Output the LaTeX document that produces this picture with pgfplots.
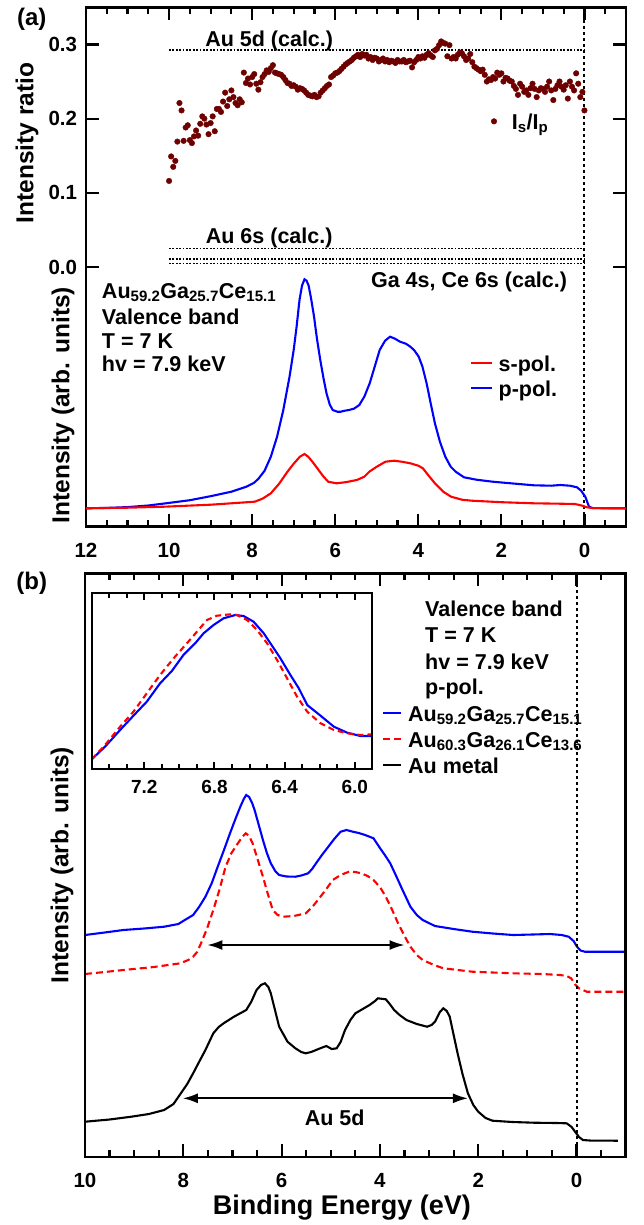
\documentclass[border=0pt]{standalone}
\usepackage{graphicx}
\usepackage{pgfplots}
\pgfplotsset{compat=1.18}
\usepackage{fontspec}
\setmainfont{Liberation Sans}
\usetikzlibrary{arrows.meta}
\definecolor{ratiored}{RGB}{110,0,0}
\definecolor{pblue}{RGB}{0,0,255}
\definecolor{sred}{RGB}{255,0,0}
\tikzset{tk/.style={line width=2.2pt, black}}
\pgfplotsset{
  myframe/.style={
    scale only axis, clip=false,
    x dir=reverse,
    tick align=inside,
    axis line style={line width=2.7pt, black},
    tick style={line width=2.2pt, black},
    major tick length=12.7pt,
    minor tick length=6.7pt,
    tick label style={font=\fontsize{20.5}{24}\selectfont\bfseries},
    xticklabel style={inner sep=0pt, anchor=north, yshift=-16pt},
    yticklabel style={inner sep=0pt, anchor=east, xshift=-8.7pt},
    label style={font=\fontsize{24.5}{29}\selectfont\bfseries},
  },
  mylegend/.style={
    legend cell align=left,
    legend style={draw=none, fill=none, inner sep=0pt, outer sep=0pt,
      font=\fontsize{21.5}{26}\selectfont\bfseries,
      nodes={inner sep=0pt, text height=15.4pt, text depth=0pt}},
  },
  curve/.style={line width=2.1pt},
  dotline/.style={black, line width=1.6pt, dash pattern=on 1.7pt off 1.7pt},
  vdot/.style={black, line width=2pt, dash pattern=on 3pt off 3pt},
}
\begin{document}
\scalebox{0.5}{%
\begin{tikzpicture}
\path (0pt,0pt) rectangle (643pt,-1225pt);
\node[font=\fontsize{24}{28}\selectfont\bfseries] at (31.7pt,-19pt) {(a)};
\node[font=\fontsize{24}{28}\selectfont\bfseries] at (31.7pt,-583.3pt) {(b)};
% ---------------- panel (a): intensity ratio
\begin{axis}[myframe, mylegend,
  at={(86pt,-526.7pt)}, anchor=south west, width=540pt, height=519.4pt,
  xmin=-1, xmax=12, ymin=-0.35, ymax=0.35,
  xtick={0,2,4,6,8,10,12}, xticklabels={0,2,4,6,8,10,12}, minor x tick num=3,
  ytick={0,0.1,0.2,0.3}, yticklabels={0.0,0.1,0.2,0.3},
  xtick pos=both, ytick pos=both,
  ylabel={Intensity ratio},
  ylabel style={at={(axis description cs:-0.109,0.739)}, anchor=center},
  legend style={at={(axis cs:2.245,0.2067)}, anchor=north west, column sep=15pt},
  legend image code/.code={\draw[#1] plot coordinates {(0pt,0pt)};},
]
\addplot[only marks, mark=*, mark size=2.8pt, color=ratiored, mark options={fill=ratiored, draw=ratiored}] coordinates {
(10.00,0.116) (9.95,0.149) (9.90,0.135) (9.85,0.143) (9.80,0.169) (9.75,0.221) (9.70,0.211) (9.65,0.170) (9.60,0.188) (9.55,0.191)
(9.50,0.171) (9.45,0.167) (9.40,0.176) (9.35,0.184) (9.30,0.177) (9.25,0.193) (9.20,0.203) (9.15,0.200) (9.10,0.192) (9.05,0.179)
(9.00,0.194) (8.95,0.203) (8.90,0.183) (8.85,0.213) (8.80,0.213) (8.75,0.209) (8.70,0.223) (8.65,0.235) (8.60,0.217) (8.55,0.226)
(8.50,0.238) (8.45,0.229) (8.40,0.221) (8.35,0.218) (8.30,0.226) (8.25,0.222) (8.20,0.262) (8.15,0.248) (8.10,0.254) (8.05,0.246)
(8.00,0.256) (7.95,0.260) (7.90,0.247) (7.85,0.239) (7.80,0.249) (7.75,0.256) (7.70,0.260) (7.65,0.265) (7.60,0.263) (7.55,0.268)
(7.50,0.272) (7.45,0.262) (7.40,0.261) (7.35,0.260) (7.30,0.259) (7.25,0.256) (7.20,0.252) (7.15,0.248) (7.10,0.247) (7.05,0.244)
(7.00,0.245) (6.95,0.243) (6.90,0.239) (6.85,0.241) (6.80,0.240) (6.75,0.238) (6.70,0.235) (6.65,0.232) (6.60,0.231) (6.55,0.230)
(6.50,0.232) (6.45,0.229) (6.40,0.230) (6.35,0.235) (6.30,0.238) (6.25,0.241) (6.20,0.244) (6.15,0.246) (6.10,0.256) (6.05,0.258)
(6.00,0.261) (5.95,0.262) (5.90,0.264) (5.85,0.267) (5.80,0.270) (5.75,0.273) (5.70,0.275) (5.65,0.277) (5.60,0.279) (5.55,0.282)
(5.50,0.284) (5.45,0.286) (5.40,0.283) (5.35,0.287) (5.30,0.285) (5.25,0.286) (5.20,0.281) (5.15,0.283) (5.10,0.279) (5.05,0.282)
(5.00,0.281) (4.95,0.277) (4.90,0.279) (4.85,0.281) (4.80,0.277) (4.75,0.279) (4.70,0.276) (4.65,0.278) (4.60,0.277) (4.55,0.275)
(4.50,0.279) (4.45,0.277) (4.40,0.277) (4.35,0.279) (4.30,0.276) (4.25,0.277) (4.20,0.278) (4.15,0.269) (4.10,0.276) (4.05,0.279)
(4.00,0.283) (3.95,0.281) (3.90,0.284) (3.85,0.282) (3.80,0.286) (3.75,0.288) (3.70,0.285) (3.65,0.283) (3.60,0.292) (3.55,0.294)
(3.50,0.299) (3.45,0.304) (3.40,0.302) (3.35,0.301) (3.30,0.284) (3.25,0.299) (3.20,0.281) (3.15,0.283) (3.10,0.281) (3.05,0.286)
(3.00,0.289) (2.95,0.288) (2.90,0.284) (2.85,0.279) (2.80,0.281) (2.75,0.287) (2.70,0.276) (2.65,0.270) (2.60,0.268) (2.55,0.266)
(2.50,0.264) (2.45,0.266) (2.40,0.259) (2.35,0.250) (2.30,0.253) (2.25,0.252) (2.20,0.256) (2.15,0.254) (2.10,0.262) (2.05,0.259)
(2.00,0.261) (1.95,0.250) (1.90,0.255) (1.85,0.254) (1.80,0.251) (1.75,0.250) (1.70,0.244) (1.65,0.240) (1.60,0.232) (1.55,0.247)
(1.50,0.243) (1.45,0.236) (1.40,0.238) (1.35,0.232) (1.30,0.241) (1.25,0.247) (1.20,0.240) (1.15,0.229) (1.10,0.238) (1.05,0.241)
(1.00,0.240) (0.95,0.236) (0.90,0.243) (0.85,0.250) (0.80,0.238) (0.75,0.225) (0.70,0.240) (0.65,0.245) (0.60,0.250) (0.55,0.243)
(0.50,0.239) (0.45,0.245) (0.40,0.227) (0.35,0.250) (0.30,0.243) (0.25,0.238) (0.20,0.261) (0.15,0.247) (0.10,0.229) (0.05,0.236)
(0.00,0.211)};
\addlegendentry{I\textsubscript{s}/I\textsubscript{p}}
\addplot[dotline, forget plot] coordinates {(10,0.2925) (0,0.2925)};
\addplot[dotline, forget plot] coordinates {(10,0.0248) (0,0.0248)};
\addplot[dotline, forget plot] coordinates {(10,0.0104) (0,0.0104)};
\addplot[dotline, forget plot] coordinates {(10,0.0046) (0,0.0046)};
\addplot[vdot, forget plot] coordinates {(0,-0.35) (0,0.35)};
\node[anchor=base, font=\fontsize{21.5}{26}\selectfont\bfseries] at (axis cs:7.59,0.2974) {Au 5d (calc.)};
\node[anchor=base, font=\fontsize{21.5}{26}\selectfont\bfseries] at (axis cs:7.59,0.0323) {Au 6s (calc.)};
\draw[line width=2.7pt, black] (rel axis cs:0,0) rectangle (rel axis cs:1,1);
\pgfplotsinvokeforeach{0,2,4,6,8,10,12}{
  \draw[tk] (axis cs:#1,-0.35) -- ++(0pt,12.7pt);
  \draw[tk] (axis cs:#1,0.35) -- ++(0pt,-12.7pt);}
\pgfplotsinvokeforeach{-0.5,0.5,1,1.5,2.5,3,3.5,4.5,5,5.5,6.5,7,7.5,8.5,9,9.5,10.5,11,11.5}{
  \draw[tk] (axis cs:#1,-0.35) -- ++(0pt,6.7pt);
  \draw[tk] (axis cs:#1,0.35) -- ++(0pt,-6.7pt);}
\pgfplotsinvokeforeach{0,0.1,0.2,0.3}{
  \draw[tk] (axis cs:12,#1) -- ++(12.7pt,0pt);
  \draw[tk] (axis cs:-1,#1) -- ++(-12.7pt,0pt);}
\end{axis}
% ---------------- panel (a): intensity
\begin{axis}[myframe, mylegend,
  at={(86pt,-526.7pt)}, anchor=south west, width=540pt, height=519.4pt,
  xmin=-1, xmax=12, ymin=0, ymax=519.4,
  xtick=\empty, ytick=\empty, axis line style={draw=none},
  ylabel={Intensity (arb. units)},
  ylabel style={at={(axis description cs:-0.0426,0.234)}, anchor=center},
  reverse legend,
  legend style={at={(axis cs:2.756,171.1)}, anchor=north west, column sep=6pt, row sep=9.6pt},
  legend image code/.code={\draw[#1] (0pt,0pt) -- (20.6pt,0pt);},
]
\addplot[curve, pblue] coordinates {
(12.0,18.4) (11.5,18.8) (11.0,19.6) (10.5,21.2) (10.0,23.8) (9.5,26.5) (9.0,30.5) (8.5,35) (8.14,40) (7.95,44) (7.84,48.4)
(7.7,56) (7.55,70) (7.4,90) (7.25,116.7) (7.1,150) (7.0,176.7) (6.93,200) (6.86,226.7) (6.8,241) (6.74,247.4) (6.69,246)
(6.64,241) (6.58,228) (6.51,210) (6.44,188) (6.36,166.7) (6.28,148) (6.21,133.4) (6.13,122) (6.06,116.7) (5.95,115) (5.87,115)
(5.77,116) (5.67,116.7) (5.55,118) (5.42,121.7) (5.3,130) (5.17,143.4) (5.05,160) (4.93,176.7) (4.8,186) (4.68,190) (4.56,188)
(4.44,185) (4.3,183) (4.19,180) (4.09,176) (3.99,170) (3.9,160) (3.8,143.4) (3.7,123) (3.6,103.4) (3.48,85) (3.35,70) (3.22,60)
(3.1,55) (2.9,49.4) (2.6,47) (2.21,45) (1.8,43.5) (1.22,41.4) (0.8,41) (0.58,41.7) (0.35,41) (0.18,39.4) (0.08,36) (-0.02,30)
(-0.11,20) (-0.2,18.6) (-0.6,18.4) (-1.0,18.4)};
\addlegendentry{p-pol.}
\addplot[curve, sred] coordinates {
(12.0,18.4) (11.0,19.0) (10.12,20) (9.0,22) (8.5,23.4) (7.94,25) (7.75,28) (7.55,33.4) (7.35,43) (7.15,55) (7.0,63) (6.85,70)
(6.74,72.7) (6.65,70) (6.55,65) (6.46,60) (6.3,51) (6.17,45) (5.97,43.4) (5.75,44.5) (5.48,46.7) (5.3,50) (5.18,55) (5.0,60)
(4.79,65) (4.58,66) (4.4,65) (4.19,63.4) (4.0,61) (3.89,58.4) (3.75,51) (3.6,43.4) (3.4,35) (3.21,30) (2.95,27) (2.71,26)
(2.0,24.5) (1.22,23.4) (0.6,23) (0.23,22.7) (0.05,21) (-0.06,19.4) (-0.2,18.6) (-1.0,18.4)};
\addlegendentry{s-pol.}
\node[anchor=base west, font=\fontsize{21.5}{26}\selectfont\bfseries] at (axis cs:11.70,228.7) {Au\textsubscript{59.2}Ga\textsubscript{25.7}Ce\textsubscript{15.1}};
\node[anchor=base west, font=\fontsize{21.5}{26}\selectfont\bfseries] at (axis cs:11.70,202.7) {Valence band};
\node[anchor=base west, font=\fontsize{21.5}{26}\selectfont\bfseries] at (axis cs:11.70,178.7) {T = 7 K};
\node[anchor=base west, font=\fontsize{21.5}{26}\selectfont\bfseries] at (axis cs:11.70,155.7) {hv = 7.9 keV};
\node[anchor=base east, font=\fontsize{21.5}{26}\selectfont\bfseries] at (axis cs:0.334,239) {Ga 4s, Ce 6s (calc.)};
\end{axis}
% ---------------- panel (b)
\begin{axis}[myframe, mylegend,
  at={(85pt,-1157pt)}, anchor=south west, width=540.7pt, height=583.7pt,
  xmin=-1, xmax=10, ymin=0, ymax=583.7,
  xtick={0,2,4,6,8,10}, xticklabels={0,2,4,6,8,10}, minor x tick num=3, ytick=\empty, xtick pos=both,
  xlabel={Binding Energy (eV)},
  xlabel style={at={(axis description cs:0.475,-0.0874)}, anchor=center, font=\fontsize{27}{32}\selectfont\bfseries},
  ylabel={Intensity (arb. units)},
  ylabel style={at={(axis description cs:-0.0425,0.5)}, anchor=center},
  legend style={at={(axis cs:3.963,451.4)}, anchor=north west, column sep=6pt, row sep=10.6pt},
  legend image code/.code={\draw[#1] (0pt,0pt) -- (18.3pt,0pt);},
]
\addplot[curve, pblue] coordinates {
(10,222) (9.6,224.5) (9.22,227) (8.8,228.5) (8.39,230.3) (8.1,233) (7.97,237) (7.8,242) (7.68,250) (7.55,260.3) (7.42,274)
(7.30,290.3) (7.18,306) (7.05,323.7) (6.94,338) (6.84,350.3) (6.77,358) (6.72,362) (6.66,360) (6.6,354) (6.55,347) (6.47,333)
(6.38,317) (6.3,304) (6.22,293.7) (6.13,286) (6.05,282) (5.9,280.5) (5.72,280.3) (5.6,281.5) (5.46,283.7) (5.38,288) (5.30,293.7)
(5.18,302) (5.05,310.3) (4.93,318) (4.80,325.3) (4.68,327) (4.55,325.3) (4.43,324) (4.30,322) (4.13,318.7) (4.0,309) (3.9,302)
(3.79,293.7) (3.66,280) (3.54,267) (3.38,250.3) (3.25,242) (3.13,237) (2.88,231) (2.5,228) (2.12,225.3) (1.7,223.5) (1.29,222)
(0.9,222.5) (0.54,223) (0.3,222) (0.16,220.3) (0.06,216) (-0.01,210.3) (-0.08,206.5) (-0.17,205.3) (-1,205.3)};
\addlegendentry{Au\textsubscript{59.2}Ga\textsubscript{25.7}Ce\textsubscript{15.1}}
\addplot[curve, sred, dash pattern=on 7pt off 4pt] coordinates {
(10,183) (9.6,185) (9.22,187) (8.6,190) (8.06,193.7) (7.9,197) (7.80,200.3) (7.72,205) (7.64,213.7) (7.52,228) (7.39,247)
(7.26,268) (7.14,290.3) (7.02,304) (6.89,313.7) (6.8,320) (6.73,323.7) (6.66,321) (6.59,313.7) (6.49,298) (6.38,280.3) (6.28,263)
(6.18,247) (6.08,242) (5.97,240.3) (5.75,241) (5.51,243.7) (5.36,251) (5.21,260.3) (5.09,268) (4.96,277) (4.8,282) (4.63,285.3)
(4.5,285) (4.38,283.7) (4.25,281) (4.13,277) (4.0,270) (3.88,260.3) (3.75,247) (3.63,233.7) (3.5,221) (3.38,210.3) (3.25,202)
(3.13,197) (2.9,192) (2.71,188.7) (2.12,185.3) (1.29,183.7) (0.7,183) (0.33,182) (0.2,181) (0.11,178.7) (0.02,172) (-0.05,168.7)
(-0.21,165.3) (-1,165.3)};
\addlegendentry{Au\textsubscript{60.3}Ga\textsubscript{26.1}Ce\textsubscript{13.6}}
\addplot[curve, black] coordinates {
(10,35.3) (9.5,37.5) (9.06,40.3) (8.7,43) (8.39,47) (8.2,53) (8.05,63.7) (7.92,73) (7.80,83.7) (7.68,95) (7.55,107) (7.39,123.7)
(7.28,130) (7.18,133.7) (6.97,140.3) (6.72,147) (6.62,155) (6.51,167) (6.42,172) (6.34,173.7) (6.27,170) (6.22,163.7) (6.14,148)
(6.05,130.3) (5.88,115.3) (5.72,108.7) (5.6,105) (5.51,103.7) (5.4,105) (5.30,107) (5.2,109) (5.09,111) (4.98,108) (4.88,108.7)
(4.8,115) (4.71,127) (4.60,137) (4.50,143.7) (4.35,148) (4.21,152) (4.1,156) (4.04,158.7) (3.88,157.7) (3.80,153) (3.71,147)
(3.6,142) (3.46,137) (3.25,133) (3.04,130.3) (2.95,132) (2.88,135.3) (2.78,145) (2.71,148.7) (2.64,146) (2.58,140.3) (2.5,122)
(2.42,103.7) (2.32,83) (2.21,63.7) (2.1,52) (2.00,45.3) (1.85,39) (1.71,36.3) (1.3,35) (0.87,34.3) (0.4,34) (0.2,33.7) (0.1,30)
(0.03,25.3) (-0.05,20) (-0.13,17) (-0.3,16.4) (-0.84,16.3)};
\addlegendentry{Au metal}
\addplot[vdot, forget plot] coordinates {(0,0) (0,583.7)};
\draw[{Latex[length=15pt,width=10pt]}-{Latex[length=15pt,width=10pt]}, line width=1.8pt] (axis cs:7.51,212) -- (axis cs:3.50,212);
\draw[{Latex[length=15pt,width=10pt]}-{Latex[length=15pt,width=10pt]}, line width=1.8pt] (axis cs:8.01,58.7) -- (axis cs:2.21,58.7);
\node[font=\fontsize{21.5}{26}\selectfont\bfseries] at (axis cs:4.92,38.7) {Au 5d};
\node[anchor=base west, font=\fontsize{21.5}{26}\selectfont\bfseries] at (axis cs:3.15,541) {Valence band};
\node[anchor=base west, font=\fontsize{21.5}{26}\selectfont\bfseries] at (axis cs:3.15,514.3) {T = 7 K};
\node[anchor=base west, font=\fontsize{21.5}{26}\selectfont\bfseries] at (axis cs:3.15,487.6) {hv = 7.9 keV};
\node[anchor=base west, font=\fontsize{21.5}{26}\selectfont\bfseries] at (axis cs:3.15,462.6) {p-pol.};
\draw[line width=2.7pt, black] (rel axis cs:0,0) rectangle (rel axis cs:1,1);
\pgfplotsinvokeforeach{0,2,4,6,8,10}{
  \draw[tk] (axis cs:#1,0) -- ++(0pt,12.7pt);
  \draw[tk] (axis cs:#1,583.7) -- ++(0pt,-12.7pt);}
\pgfplotsinvokeforeach{-0.5,0.5,1,1.5,2.5,3,3.5,4.5,5,5.5,6.5,7,7.5,8.5,9,9.5}{
  \draw[tk] (axis cs:#1,0) -- ++(0pt,6.7pt);
  \draw[tk] (axis cs:#1,583.7) -- ++(0pt,-6.7pt);}
\end{axis}
% ---------------- inset
\begin{axis}[
  scale only axis, clip=false, x dir=reverse, tick align=inside,
  at={(91.7pt,-769pt)}, anchor=south west, width=280.6pt, height=175.7pt,
  axis background/.style={fill=white},
  axis line style={line width=2.3pt, black},
  tick style={line width=2pt, black},
  major tick length=7pt, minor tick length=5pt,
  xmin=5.9, xmax=7.5, ymin=0, ymax=175.7,
  xtick={6.0,6.4,6.8,7.2}, xticklabels={6.0,6.4,6.8,7.2}, minor x tick num=3,
  ytick=\empty, xtick pos=both,
  tick label style={font=\fontsize{19}{23}\selectfont\bfseries},
  xticklabel style={inner sep=0pt, anchor=north, yshift=-11.5pt},
]
\addplot[curve, pblue] coordinates {
(7.5,9.7) (7.424,22.3) (7.338,39) (7.262,53.3) (7.186,67.3) (7.110,85.7) (7.043,98) (6.977,114) (6.910,125.7) (6.862,135.7)
(6.805,144) (6.748,150.7) (6.681,154) (6.634,153) (6.577,147.3) (6.519,135.7) (6.462,120.7) (6.424,110.7) (6.367,94) (6.319,80.7)
(6.271,64) (6.195,53.3) (6.119,42.3) (6.043,36.3) (5.967,33) (5.9,33)};
\addplot[curve, sred, dash pattern=on 6pt off 4pt] coordinates {
(7.5,9.7) (7.424,24) (7.338,42.3) (7.262,57.3) (7.186,75.7) (7.110,94) (7.033,110.7) (6.957,125.7) (6.900,137.3) (6.843,149)
(6.786,153.3) (6.710,154.7) (6.672,154) (6.614,149) (6.557,139) (6.500,125.7) (6.443,109) (6.386,90.7) (6.329,72.3) (6.271,57.3)
(6.195,45.7) (6.119,39) (6.043,35.7) (5.967,34) (5.9,34.7)};
\draw[line width=2.3pt, black] (rel axis cs:0,0) rectangle (rel axis cs:1,1);
\pgfplotsinvokeforeach{6.0,6.4,6.8,7.2}{
  \draw[line width=2pt, black] (axis cs:#1,0) -- ++(0pt,7pt);
  \draw[line width=2pt, black] (axis cs:#1,175.7) -- ++(0pt,-7pt);}
\pgfplotsinvokeforeach{6.1,6.2,6.3,6.5,6.6,6.7,6.9,7.0,7.1,7.3,7.4}{
  \draw[line width=2pt, black] (axis cs:#1,0) -- ++(0pt,5pt);
  \draw[line width=2pt, black] (axis cs:#1,175.7) -- ++(0pt,-5pt);}
\end{axis}
\end{tikzpicture}}
\end{document}
